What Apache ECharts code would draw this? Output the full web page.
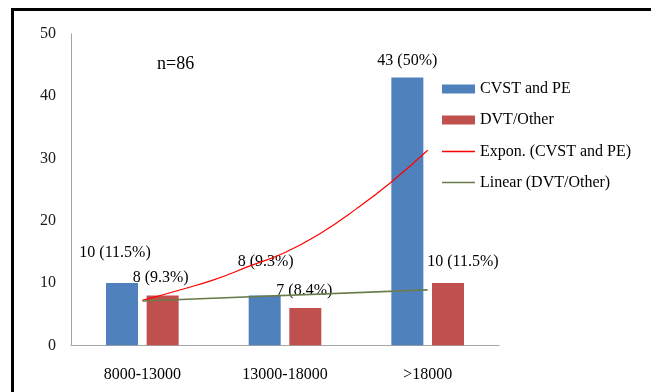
<!DOCTYPE html>
<html>
<head>
<meta charset="utf-8">
<script src="https://cdn.jsdelivr.net/npm/echarts@6/dist/echarts.min.js"></script>
<style>
html,body{margin:0;padding:0;background:#fff;}
#chart{width:651px;height:392px;}
</style>
</head>
<body>
<div id="chart"></div>
<script>
// ---- data ----
const categories = ['8000-13000', '13000-18000', '>18000'];
const cvstValues = [10, 8, 43];
const dvtValues = [8, 6, 10];
const cvstLabels = ['10 (11.5%)', '8 (9.3%)', '43 (50%)'];
const dvtLabels = ['8 (9.3%)', '7 (8.4%)', '10 (11.5%)'];
// trend lines, points (x = category position 1..3)
const exponX = [1, 1.25, 1.5, 1.75, 2, 2.25, 2.5, 2.75, 3];
const exponY = [7.2, 8.8, 10.5, 12.7, 14.9, 18.0, 21.9, 26.3, 31.3];
const linearX = [1, 3];
const linearY = [7.1, 8.9];
const yTicks = { min: 0, max: 50, interval: 10 };
const annotation = 'n=86';

// ---- styling ----
const FONT = 'Liberation Serif';
const cvstLabelOffsets = [[-7, -17], [1, -21], [0, -4]];
const dvtLabelOffsets = [[-2, -5], [-1, -4], [15, -8]];

const chart = echarts.init(document.getElementById('chart'), null, { renderer: 'canvas' });

const labelStyle = { show: true, position: 'top', color: '#000', fontFamily: FONT, fontSize: 16 };
const legendText = { fontFamily: FONT, fontSize: 16, lineHeight: 16, color: '#000' };

chart.setOption({
  animation: false,
  backgroundColor: '#fff',
  textStyle: { fontFamily: FONT },
  grid: { left: 71, right: 152, top: 33.8, bottom: 46.7, containLabel: false },
  legend: [
    {
      orient: 'vertical',
      left: 437,
      top: 76,
      itemWidth: 33,
      itemHeight: 9,
      itemGap: 15,
      icon: 'rect',
      textStyle: legendText,
      data: ['CVST and PE', 'DVT/Other']
    },
    {
      orient: 'vertical',
      left: 437,
      top: 138.5,
      itemWidth: 33,
      itemHeight: 1.5,
      itemGap: 15,
      icon: 'rect',
      textStyle: legendText,
      data: ['Expon. (CVST and PE)', 'Linear (DVT/Other)']
    }
  ],
  graphic: [
    { type: 'text', left: 157, top: 55, style: { text: annotation, fontFamily: FONT, fontSize: 18, fill: '#000' } },
    { type: 'line', shape: { x1: 11, y1: 9.5, x2: 651, y2: 9.5 }, style: { stroke: '#000', lineWidth: 3 } },
    { type: 'line', shape: { x1: 12.5, y1: 8, x2: 12.5, y2: 392 }, style: { stroke: '#000', lineWidth: 3 } }
  ],
  xAxis: [
    {
      type: 'category',
      data: categories,
      axisLine: { show: true, lineStyle: { color: '#a6a6a6', width: 1 } },
      axisTick: { show: false },
      axisLabel: { color: '#000', fontFamily: FONT, fontSize: 16, margin: 21 },
      splitLine: { show: false }
    },
    {
      type: 'value',
      min: 0.5,
      max: 3.5,
      show: false
    }
  ],
  yAxis: {
    type: 'value',
    min: yTicks.min,
    max: yTicks.max,
    interval: yTicks.interval,
    axisLine: { show: true, lineStyle: { color: '#a6a6a6', width: 1 } },
    axisTick: { show: false },
    axisLabel: { color: '#1a1a1a', fontFamily: FONT, fontSize: 16, margin: 15 },
    splitLine: { show: false }
  },
  series: [
    {
      name: 'CVST and PE',
      type: 'bar',
      barWidth: 32,
      barGap: '27%',
      itemStyle: { color: '#4f81bd' },
      data: cvstValues.map((v, i) => ({
        value: v,
        label: Object.assign({}, labelStyle, { formatter: cvstLabels[i], offset: cvstLabelOffsets[i] })
      }))
    },
    {
      name: 'DVT/Other',
      type: 'bar',
      barWidth: 32,
      barGap: '27%',
      itemStyle: { color: '#c0504d' },
      data: dvtValues.map((v, i) => ({
        value: v,
        label: Object.assign({}, labelStyle, { formatter: dvtLabels[i], offset: dvtLabelOffsets[i] })
      }))
    },
    {
      name: 'Expon. (CVST and PE)',
      type: 'line',
      xAxisIndex: 1,
      smooth: true,
      symbol: 'none',
      z: 5,
      lineStyle: { color: '#ff0000', width: 1.2 },
      itemStyle: { color: '#ff0000' },
      data: exponX.map((x, i) => [x, exponY[i]])
    },
    {
      name: 'Linear (DVT/Other)',
      type: 'line',
      xAxisIndex: 1,
      symbol: 'none',
      z: 5,
      lineStyle: { color: '#6b7c4c', width: 1.6 },
      itemStyle: { color: '#6b7c4c' },
      data: linearX.map((x, i) => [x, linearY[i]])
    }
  ]
});
</script>
</body>
</html>
